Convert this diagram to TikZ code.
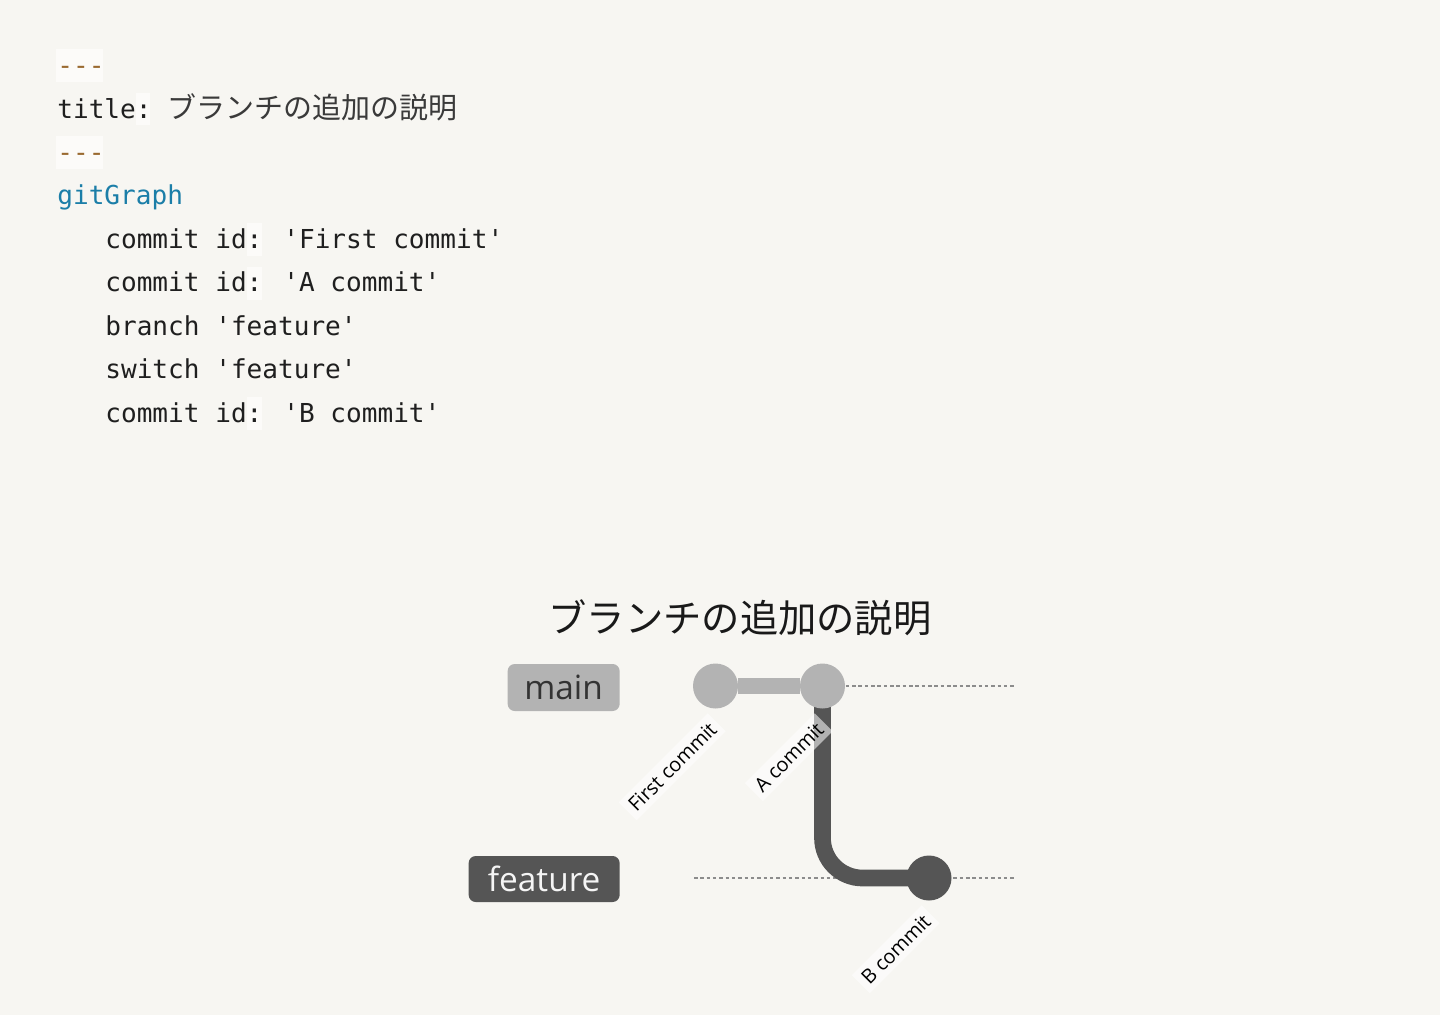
\documentclass[tikz,border=0pt]{standalone}
\usepackage{fontspec}
\setmainfont{Open Sans}
\newfontfamily\codefont{DejaVu Sans Mono}
\newfontfamily\jpfont{Noto Sans CJK JP}
\usepackage{tikz}
\usetikzlibrary{positioning}
\definecolor{PageBG}{HTML}{F7F6F2}
\definecolor{MarkBG}{HTML}{FCFBF9}
\definecolor{DashCol}{HTML}{9A6A30}
\definecolor{KeyCol}{HTML}{1F1F1F}
\definecolor{JpCol}{HTML}{3A3A3A}
\definecolor{KwCol}{HTML}{1B7EA8}
\definecolor{MainCol}{HTML}{B3B3B3}
\definecolor{FeatCol}{HTML}{555555}
\definecolor{LaneCol}{HTML}{8C8C8C}
\pgfdeclarelayer{bg}
\pgfdeclarelayer{lanes}
\pgfsetlayers{bg,lanes,main}
\newcommand{\mono}{\codefont\fontsize{14.85}{18}\selectfont}
\newcommand{\jpcode}{\jpfont\fontsize{16.5}{20}\selectfont}

\begin{document}
\begin{tikzpicture}[x=0.02cm,y=-0.02cm,
    codeline/.style={anchor=base west,inner sep=0pt,font=\mono,text=KeyCol},
    commit/.style={circle,minimum size=0.9cm,inner sep=0pt},
    commitlabel/.style={rotate=45,anchor=east,fill=white,fill opacity=0.55,
      text opacity=1,inner sep=3pt,font=\fontsize{11.3}{13}\selectfont},
    branchtag/.style={anchor=east,rounded corners=4pt,inner sep=0pt,
      font=\fontsize{19}{22}\selectfont},
    lane/.style={LaneCol,line width=1.1pt,dash pattern=on 2pt off 1.6pt}]
  \useasboundingbox (0,0) rectangle (1440,1015);
  \begin{pgfonlayer}{bg}
    \fill[PageBG] (0,0) rectangle (1440,1015);
  \end{pgfonlayer}

  % --- Top: source of the graph ---
  \fill[MarkBG] (56,49) rectangle (103,82);
  \fill[MarkBG] (56,136) rectangle (103,169);
  \fill[MarkBG] (136,93) rectangle (150,125);
  \fill[MarkBG] (247,223) rectangle (262,256);
  \fill[MarkBG] (247,266.5) rectangle (262,299.5);
  \fill[MarkBG] (247,397) rectangle (262,430);
  \node[codeline,text=DashCol] (l1) at (57,74) {-{}-{}-};
  \node[codeline] (l2) at (57,118.5)
    {title:\ {\jpcode\color{JpCol}ブランチの追加の説明}};
  \node[codeline,text=DashCol] (l3) at (57,161) {-{}-{}-};
  \node[codeline,text=KwCol] (l4) at (57,204.5) {gitGraph};
  \node[codeline] (l5) at (105,248) {commit id: 'First commit'};
  \node[codeline] (l6) at (105,291.5) {commit id: 'A commit'};
  \node[codeline] (l7) at (105,335) {branch 'feature'};
  \node[codeline] (l8) at (105,378.5) {switch 'feature'};
  \node[codeline] (l9) at (105,422) {commit id: 'B commit'};

  % --- Bottom: rendered git graph ---
  \node[font=\jpfont\fontsize{21.8}{26}\selectfont,text=black!90] (title) at (740,618)
    {ブランチの追加の説明};
  \node[branchtag,fill=MainCol,text=black!80,minimum width=2.24cm,minimum height=0.94cm]
    (main) at (620,687.5) {main};
  \node[branchtag,fill=FeatCol,text=white!96!black,minimum width=3.02cm,minimum height=0.92cm]
    (feature) at (620,879) {feature};
  \node[commit,fill=MainCol] (c1) at (715.5,686) {};
  \node[commit,fill=MainCol] (c2) at (822.5,686) {};
  \node[commit,fill=FeatCol] (c3) at (929,878) {};
  \coordinate (mainfrom) at (694,686);
  \coordinate (mainto) at (1014,686);
  \coordinate (featfrom) at (694,878);
  \coordinate (featto) at (1014,878);
  \begin{pgfonlayer}{lanes}
    \draw[lane] (mainfrom) -- (mainto);
    \draw[lane] (featfrom) -- (featto);
    \draw[MainCol,line width=9.5pt] (c1) -- (c2);
    \draw[FeatCol,line width=9.5pt,rounded corners=0.8cm] (c2.center) |- (c3.center);
  \end{pgfonlayer}
  % commit ids
  \node[commitlabel] (id1) at (717,722) {First commit};
  \node[commitlabel] (id2) at (824,722) {A commit};
  \node[commitlabel] (id3) at (931,914) {B commit};
\end{tikzpicture}
\end{document}
